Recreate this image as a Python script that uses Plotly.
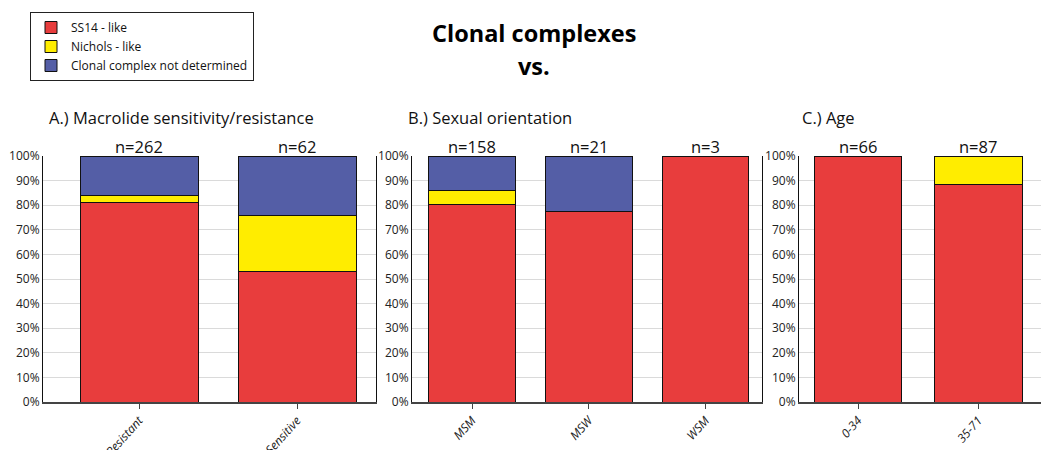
import plotly.graph_objects as go

# ---- data ----
cat_a = ["Resistant", "Sensitive"]
ss14_a = [81.3, 53.2]
nichols_a = [2.7, 22.6]
undet_a = [16.0, 24.2]
n_a = ["n=262", "n=62"]

cat_b = ["MSM", "MSW", "WSM"]
ss14_b = [80.4, 77.6, 100.0]
nichols_b = [5.7, 0.0, 0.0]
undet_b = [13.9, 22.4, 0.0]
n_b = ["n=158", "n=21", "n=3"]

cat_c = ["0-34", "35-71"]
ss14_c = [100.0, 88.5]
nichols_c = [0.0, 11.5]
undet_c = [0.0, 0.0]
n_c = ["n=66", "n=87"]

series_names = ["SS14 - like", "Nichols - like", "Clonal complex not determined"]
colors = ["#E83D3D", "#FFED00", "#545EA6"]
y_ticks = [0, 10, 20, 30, 40, 50, 60, 70, 80, 90, 100]
y_labels = [f"{v}%" for v in y_ticks]

W, H = 1041, 450
FONT = "Open Sans"

fig = go.Figure()

panels = [
    ("x", "y", cat_a, [ss14_a, nichols_a, undet_a], n_a, 0.747),
    ("x2", "y2", cat_b, [ss14_b, nichols_b, undet_b], n_b, 0.745),
    ("x3", "y3", cat_c, [ss14_c, nichols_c, undet_c], n_c, 0.73),
]

for pi, (xa, ya, cats, vals, ns, width) in enumerate(panels):
    for si, v in enumerate(vals):
        fig.add_trace(go.Bar(
            x=cats, y=v, name=series_names[si], xaxis=xa, yaxis=ya,
            marker=dict(color=colors[si], line=dict(color="#111111", width=1)),
            width=width, showlegend=(pi == 0), legendgroup=series_names[si],
            hoverinfo="skip",
        ))
    for c, n in zip(cats, ns):
        fig.add_annotation(x=c, y=100, xref=xa, yref=ya, text=n, showarrow=False,
                           yanchor="bottom", yshift=-4,
                           font=dict(family=FONT, size=16.5, color="#111111"))

ydom = [(H - 402) / H, (H - 156) / H]
xdoms = [[43 / W, 376 / W], [412 / W, 762 / W], [799 / W, 1.0]]
xranges = [[-0.608, 1.5], [-0.514, 2.484], [-0.49, 1.52]]

layout_axes = {}
for i in range(3):
    sx = "xaxis" if i == 0 else f"xaxis{i+1}"
    sy = "yaxis" if i == 0 else f"yaxis{i+1}"
    anchor_y = "y" if i == 0 else f"y{i+1}"
    anchor_x = "x" if i == 0 else f"x{i+1}"
    layout_axes[sx] = dict(domain=xdoms[i], range=xranges[i], anchor=anchor_y,
                           automargin=False,
                           showline=True, linecolor="#444444", linewidth=1.5, mirror=False,
                           ticks="outside", ticklen=5, tickcolor="#444444",
                           tickangle=-48, showgrid=False,
                           tickfont=dict(family=FONT, size=12, color="#222222", style="italic"))
    layout_axes[sy] = dict(domain=ydom, range=[0, 100], anchor=anchor_x,
                           automargin=False,
                           tickvals=y_ticks, ticktext=y_labels,
                           showline=True, linecolor="#111111", linewidth=1, mirror=True,
                           showgrid=True, gridcolor="#DADADA", gridwidth=1,
                           zeroline=False, ticks="",
                           tickfont=dict(family=FONT, size=12, color="#222222"))

fig.update_layout(**layout_axes)

# panel titles
for x, t in [(47, "A.) Macrolide sensitivity/resistance"), (406, "B.) Sexual orientation"), (800, "C.) Age")]:
    fig.add_annotation(x=x / W, y=1 - 117 / H, xref="paper", yref="paper", text=t,
                       showarrow=False, xanchor="left", yanchor="middle",
                       font=dict(family=FONT, size=16.5, color="#111111"))

# main title
fig.add_annotation(x=534 / W, y=1 - 33 / H, xref="paper", yref="paper", text="<b>Clonal complexes</b>",
                   showarrow=False, xanchor="center", yanchor="middle",
                   font=dict(family=FONT, size=23.5, color="#000000"))
fig.add_annotation(x=534 / W, y=1 - 66 / H, xref="paper", yref="paper", text="<b>vs.</b>",
                   showarrow=False, xanchor="center", yanchor="middle",
                   font=dict(family=FONT, size=23.5, color="#000000"))

fig.update_layout(
    width=W, height=H,
    margin=dict(l=0, r=0, t=0, b=0, autoexpand=False),
    paper_bgcolor="white", plot_bgcolor="white",
    barmode="stack",
    showlegend=True,
    legend=dict(x=30 / W, y=1 - 12 / H, xanchor="left", yanchor="top",
                traceorder="normal", bordercolor="#222222", borderwidth=1,
                bgcolor="white", font=dict(family=FONT, size=12, color="#111111"),
                tracegroupgap=0, itemwidth=30),
)

fig.write_html("out.html", config={"displayModeBar": False},
               post_script="document.body.style.margin='0';document.body.style.overflow='hidden';")
